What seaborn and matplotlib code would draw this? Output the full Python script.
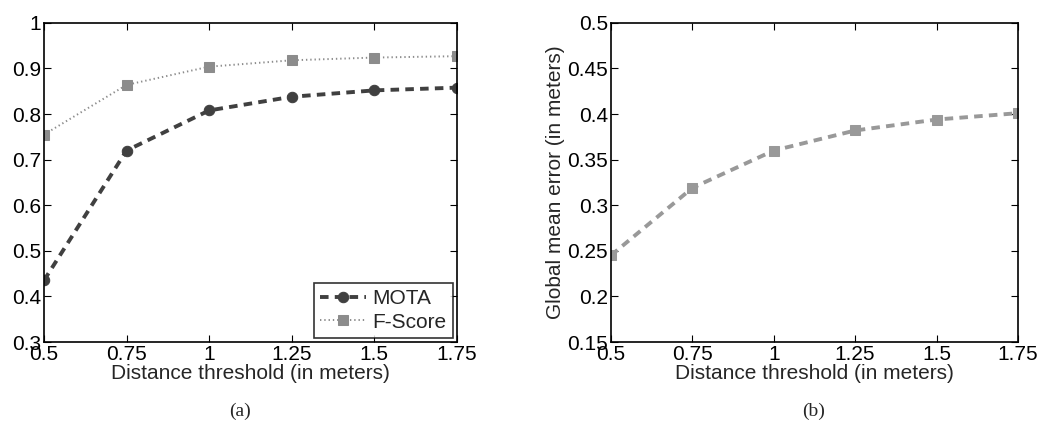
import matplotlib
matplotlib.use("Agg")
import matplotlib.pyplot as plt
import seaborn as sns
import pandas as pd

thresholds = [0.5, 0.75, 1.0, 1.25, 1.5, 1.75]
mota = [0.435, 0.720, 0.808, 0.838, 0.852, 0.858]
fscore = [0.755, 0.864, 0.904, 0.918, 0.924, 0.927]
mean_error = [0.245, 0.319, 0.360, 0.382, 0.394, 0.401]
x_ticklabels = ["0.5", "0.75", "1", "1.25", "1.5", "1.75"]
left_yticks = [0.3, 0.4, 0.5, 0.6, 0.7, 0.8, 0.9, 1.0]
left_yticklabels = ["0.3", "0.4", "0.5", "0.6", "0.7", "0.8", "0.9", "1"]
right_yticks = [0.15, 0.2, 0.25, 0.3, 0.35, 0.4, 0.45, 0.5]
right_yticklabels = ["0.15", "0.2", "0.25", "0.3", "0.35", "0.4", "0.45", "0.5"]

sns.set_style("white")
plt.rcParams['font.family'] = ['Liberation Sans', 'DejaVu Sans']

fig = plt.figure(figsize=(10.39, 4.21), dpi=100)
ax1 = fig.add_axes([0.0423, 0.1876, 0.3975, 0.758])
ax2 = fig.add_axes([0.588, 0.1876, 0.3917, 0.758])

df = pd.DataFrame({"x": thresholds, "MOTA": mota, "F-Score": fscore, "err": mean_error})

sns.lineplot(data=df, x="x", y="MOTA", ax=ax1, color="#404040",
             linewidth=2.8, marker="o", markersize=7.5, markeredgecolor="#404040",
             label="MOTA")
ax1.lines[-1].set_linestyle((0, (2.2, 1.6)))
sns.lineplot(data=df, x="x", y="F-Score", ax=ax1, color="#8c8c8c",
             linewidth=1.4, marker="s", markersize=6.5, markeredgecolor="#8c8c8c",
             label="F-Score")
ax1.lines[-1].set_linestyle((0, (0.7, 1.5)))

sns.lineplot(data=df, x="x", y="err", ax=ax2, color="#999999",
             linewidth=2.8, marker="s", markersize=6.5, markeredgecolor="#999999")
ax2.lines[-1].set_linestyle((0, (2.2, 1.6)))

for ax, yt, ytl, ylim in [(ax1, left_yticks, left_yticklabels, (0.3, 1.0)),
                          (ax2, right_yticks, right_yticklabels, (0.15, 0.5))]:
    ax.set_xlim(0.5, 1.75)
    ax.set_ylim(*ylim)
    ax.set_xticks(thresholds)
    ax.set_xticklabels(x_ticklabels)
    ax.set_yticks(yt)
    ax.set_yticklabels(ytl)
    ax.tick_params(direction="in", length=5, width=0.8, labelsize=15,
                   top=True, right=True, bottom=True, left=True, pad=2, colors="black")
    for s in ax.spines.values():
        s.set_visible(True)
        s.set_color("black")
        s.set_linewidth(1.2)
    ax.set_xlabel("Distance threshold (in meters)", fontsize=15, labelpad=0)
    ax.grid(False)

ax1.set_ylabel("")
ax2.set_ylabel("Global mean error (in meters)", fontsize=15, labelpad=2)

leg = ax1.legend(loc="lower right", fontsize=15, frameon=True, fancybox=False,
                 edgecolor="black", handlelength=2.2, borderpad=0.3,
                 labelspacing=0.2, handletextpad=0.3, borderaxespad=0.2)
leg.get_frame().set_linewidth(1.2)

fig.text(0.231, 0.012, "(a)", fontsize=14, family=["Liberation Serif", "DejaVu Serif"], ha="center")
fig.text(0.783, 0.012, "(b)", fontsize=14, family=["Liberation Serif", "DejaVu Serif"], ha="center")

fig.savefig("out.png", dpi=100)
